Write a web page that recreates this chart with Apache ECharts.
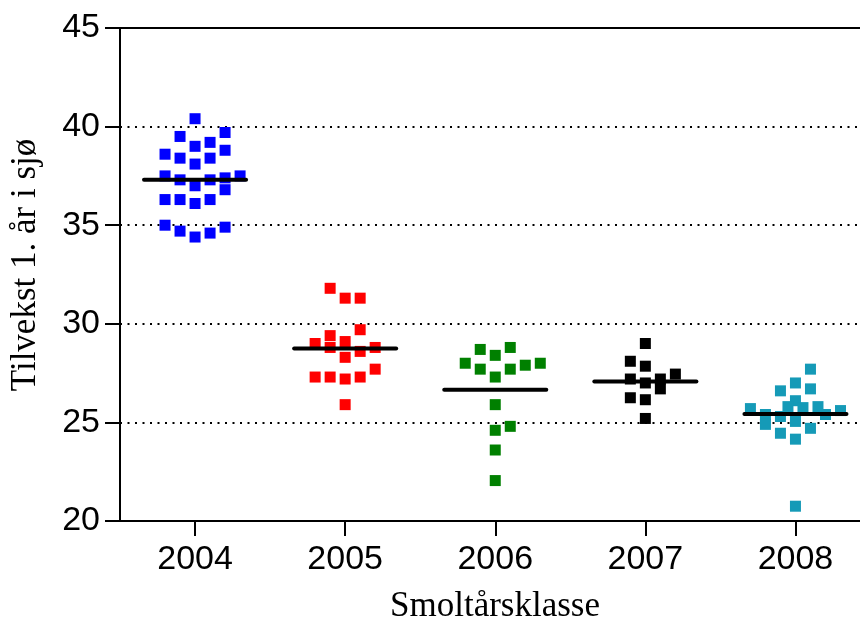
<!DOCTYPE html>
<html>
<head>
<meta charset="utf-8">
<script src="https://cdn.jsdelivr.net/npm/echarts@6/dist/echarts.min.js"></script>
<style>html,body{margin:0;padding:0;background:#fff}#c{width:860px;height:624px}</style>
</head>
<body>
<div id="c"></div>
<script>
const categories = ['2004', '2005', '2006', '2007', '2008'];
const yTicks = [20, 25, 30, 35, 40, 45];

const y2004 = [40.4, 39.5, 39.7, 39.2, 39.0, 38.8, 38.6, 38.4, 38.4, 38.1, 37.5, 37.5, 37.3, 37.3, 37.4, 37.0, 36.8, 36.3, 36.3, 36.3, 36.1, 35.0, 34.7, 34.4, 34.6, 34.9];
const x2004 = [0, -0.1, 0.2, 0.1, 0, 0.2, -0.2, -0.1, 0.1, 0, -0.2, 0.3, -0.1, 0.1, 0.2, 0, 0.2, -0.2, -0.1, 0.1, 0, -0.2, -0.1, 0, 0.1, 0.2];

const y2005 = [31.8, 31.3, 31.3, 29.7, 29.4, 29.0, 28.8, 29.1, 28.8, 28.6, 28.3, 27.7, 27.3, 27.3, 27.2, 27.3, 25.9];
const x2005 = [-0.1, 0, 0.1, 0.1, -0.1, -0.2, -0.1, 0, 0.2, 0.1, 0, 0.2, -0.2, -0.1, 0, 0.1, 0];

const y2006 = [28.7, 28.8, 28.4, 28.0, 27.7, 27.7, 27.9, 28.0, 27.3, 25.9, 24.8, 24.6, 23.6, 22.05];
const x2006 = [-0.1, 0.1, 0, -0.2, -0.1, 0.1, 0.2, 0.3, 0, 0, 0.1, 0, 0, 0];

const y2007 = [29.0, 28.1, 27.85, 27.45, 27.2, 27.0, 27.2, 26.7, 26.25, 26.15, 25.2];
const x2007 = [0, -0.1, 0, 0.2, -0.1, 0, 0.1, 0.1, -0.1, 0, 0];

const y2008 = [27.7, 27.0, 26.6, 26.7, 26.1, 25.8, 25.75, 25.8, 25.7, 25.6, 25.4, 24.9, 25.3, 25.4, 25.05, 24.7, 24.45, 24.15, 20.75];
const x2008 = [0.1, 0, -0.1, 0.1, 0, -0.05, 0.05, 0.15, -0.3, 0.3, -0.2, -0.2, -0.1, 0.2, 0, 0.1, -0.1, 0, 0];

const means = [37.3, 28.75, 26.65, 27.07, 25.42];
const colors = ['#0000ff', '#ff0000', '#008000', '#000000', '#159ab7'];

const groupsY = [y2004, y2005, y2006, y2007, y2008];
const groupsX = [x2004, x2005, x2006, x2007, x2008];

const series = [];
groupsY.forEach((ys, i) => {
  series.push({
    type: 'scatter',
    xAxisIndex: 0, yAxisIndex: 0,
    symbol: 'rect',
    symbolSize: 11,
    itemStyle: { color: colors[i], opacity: 1 },
    data: ys.map((v, k) => [i + groupsX[i][k], v]),
    z: 2,
    silent: true
  });
});
means.forEach((m, i) => {
  series.push({
    type: 'line',
    xAxisIndex: 0, yAxisIndex: 0,
    symbol: 'none',
    lineStyle: { color: '#000', width: 4, cap: 'round' },
    data: [[i - 0.34, m], [i + 0.34, m]],
    z: 5,
    silent: true,
    animation: false
  });
});

const chart = echarts.init(document.getElementById('c'));
chart.setOption({
  animation: false,
  backgroundColor: '#fff',
  grid: { left: 120, right: 0, top: 28, bottom: 103 },
  xAxis: [{
    type: 'value',
    min: -0.5, max: 4.43,
    position: 'bottom',
    axisLine: { show: true, onZero: false, lineStyle: { color: '#000', width: 2 } },
    axisTick: { show: true, length: 15, lineStyle: { color: '#000', width: 2 }, customValues: [0, 1, 2, 3, 4] },
    axisLabel: { show: true, margin: 22, fontFamily: 'Liberation Sans', fontSize: 34, color: '#000',
      customValues: [0, 1, 2, 3, 4], formatter: v => categories[Math.round(v)] },
    splitLine: { show: false }
  }, {
    type: 'value',
    min: -0.5, max: 4.43,
    position: 'top',
    axisLine: { show: true, onZero: false, lineStyle: { color: '#000', width: 2 } },
    axisTick: { show: false },
    axisLabel: { show: false },
    splitLine: { show: false }
  }],
  yAxis: {
    type: 'value',
    min: 20, max: 45, interval: 5,
    position: 'left',
    axisLine: { show: true, onZero: false, lineStyle: { color: '#000', width: 2 } },
    axisTick: { show: true, length: 15, lineStyle: { color: '#000', width: 2 } },
    axisLabel: { margin: 20, fontFamily: 'Liberation Sans', fontSize: 34, color: '#000',
      formatter: v => (yTicks.indexOf(v) >= 0 ? String(v) : '') },
    splitLine: { show: true, lineStyle: { color: '#000', width: 2, type: [2, 5.5] } }
  },
  graphic: [
    { type: 'text', x: 26, y: 265, rotation: Math.PI / 2,
      style: { text: 'Tilvekst 1. år i sjø', font: '35px "Liberation Serif"', fill: '#000', align: 'center', verticalAlign: 'middle' } },
    { type: 'text', x: 495, y: 607,
      style: { text: 'Smoltårsklasse', font: '35px "Liberation Serif"', fill: '#000', align: 'center', verticalAlign: 'middle' } }
  ],
  series: series
});
</script>
</body>
</html>
